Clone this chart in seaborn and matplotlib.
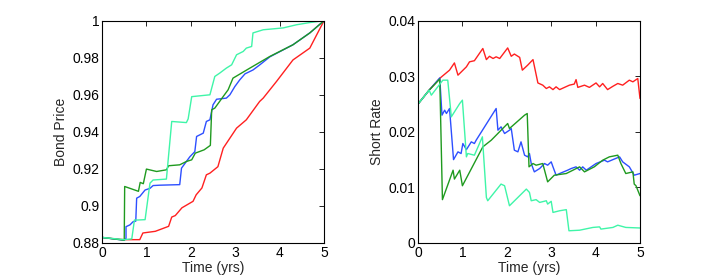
import numpy as np
import pandas as pd
import matplotlib
matplotlib.use("Agg")
import matplotlib.pyplot as plt
import seaborn as sns

# ---- bond price paths (time in yrs, price) ----
bond_red_t = [0, 0.3, 0.5, 0.85, 0.92, 1.2, 1.5, 1.57, 1.65, 1.8, 2.05, 2.12, 2.25, 2.35,
              2.43, 2.61, 2.73, 2.88, 3.03, 3.25, 3.55, 3.63, 3.93, 4.3, 4.68, 5.0]
bond_red_v = [0.883, 0.8822, 0.8818, 0.8818, 0.8854, 0.8863, 0.889, 0.894, 0.8948, 0.899,
              0.9025, 0.906, 0.9097, 0.9168, 0.9177, 0.9212, 0.9312, 0.9366, 0.942, 0.9465,
              0.9564, 0.9582, 0.9672, 0.9788, 0.9852, 1.0]

bond_blue_t = [0, 0.5, 0.54, 0.54, 0.63, 0.7, 0.76, 0.78, 0.85, 0.97, 1.08, 1.15, 1.3, 1.75,
               1.79, 1.9, 1.98, 2.09, 2.13, 2.28, 2.35, 2.43, 2.5, 2.58, 2.8, 2.88, 2.99,
               3.1, 3.22, 3.4, 3.55, 3.78, 4.3, 4.68, 5.0]
bond_blue_v = [0.883, 0.8815, 0.8825, 0.8888, 0.8898, 0.8915, 0.8918, 0.9042, 0.9051, 0.9086,
               0.9095, 0.911, 0.9112, 0.9115, 0.9204, 0.924, 0.9266, 0.9293, 0.9375, 0.9393,
               0.9456, 0.9465, 0.9546, 0.9576, 0.9582, 0.96, 0.9644, 0.968, 0.9713, 0.9734,
               0.9761, 0.9805, 0.987, 0.9934, 1.0]

bond_green_t = [0, 0.5, 0.51, 0.82, 0.86, 0.93, 1.0, 1.23, 1.45, 1.5, 1.75, 1.9, 2.02, 2.1,
                2.3, 2.44, 2.47, 2.54, 2.73, 2.84, 2.95, 3.33, 3.78, 4.3, 4.68, 5.0]
bond_green_v = [0.883, 0.8815, 0.9105, 0.9079, 0.9127, 0.912, 0.9199, 0.9186, 0.9195, 0.9217,
                0.9222, 0.924, 0.9249, 0.9285, 0.9303, 0.9327, 0.9519, 0.9528, 0.9591, 0.9627,
                0.969, 0.9744, 0.9807, 0.987, 0.9934, 1.0]

bond_aqua_t = [0, 0.5, 0.67, 0.73, 0.8, 0.97, 1.08, 1.15, 1.45, 1.57, 1.9, 1.94, 2.02, 2.43,
               2.54, 2.65, 2.8, 2.92, 3.03, 3.18, 3.25, 3.37, 3.4, 3.63, 4.08, 4.38, 4.68, 5.0]
bond_aqua_v = [0.883, 0.8818, 0.8822, 0.8924, 0.8924, 0.8926, 0.9123, 0.914, 0.9145, 0.9456,
               0.945, 0.947, 0.959, 0.96, 0.9699, 0.9717, 0.9744, 0.9762, 0.9816, 0.9834,
               0.9852, 0.9861, 0.9934, 0.9951, 0.9961, 0.9978, 0.999, 1.0]

# ---- short rate paths ----
rate_red_t = [0, 0.25, 0.5, 0.71, 0.82, 0.9, 1.09, 1.16, 1.27, 1.46, 1.54, 1.61, 1.69, 1.76,
              1.84, 2.02, 2.1, 2.17, 2.25, 2.29, 2.35, 2.47, 2.59, 2.7, 2.81, 2.89, 2.96,
              3.04, 3.11, 3.19, 3.3, 3.41, 3.52, 3.56, 3.6, 3.75, 3.86, 4.01, 4.09, 4.16,
              4.27, 4.39, 4.5, 4.61, 4.76, 4.84, 4.95, 5.0]
rate_red_v = [0.025, 0.0275, 0.0297, 0.0311, 0.0324, 0.0302, 0.0317, 0.0326, 0.0328, 0.035,
              0.033, 0.0336, 0.0332, 0.0335, 0.0332, 0.0351, 0.0336, 0.034, 0.0336, 0.0334,
              0.0311, 0.032, 0.033, 0.0288, 0.0284, 0.0278, 0.0281, 0.0276, 0.0281, 0.0276,
              0.028, 0.0284, 0.0286, 0.0294, 0.028, 0.0284, 0.028, 0.0288, 0.0281, 0.0287,
              0.0276, 0.0282, 0.0287, 0.0284, 0.0293, 0.029, 0.0296, 0.026]

rate_blue_t = [0, 0.25, 0.49, 0.54, 0.6, 0.64, 0.71, 0.8, 0.9, 0.97, 1.01, 1.09, 1.2, 1.27,
               1.31, 1.76, 1.8, 1.87, 1.95, 2.06, 2.1, 2.17, 2.25, 2.32, 2.4, 2.47, 2.51,
               2.55, 2.62, 2.74, 2.85, 2.92, 3.0, 3.04, 3.11, 3.19, 3.37, 3.45, 3.56, 3.64,
               3.71, 3.79, 4.01, 4.2, 4.27, 4.54, 4.61, 4.76, 4.87, 5.0]
rate_blue_v = [0.025, 0.0275, 0.0297, 0.023, 0.0239, 0.0233, 0.0242, 0.015, 0.0164, 0.0161,
               0.0179, 0.0168, 0.0182, 0.0179, 0.0185, 0.0242, 0.0203, 0.0209, 0.0197, 0.0203,
               0.0206, 0.0167, 0.0164, 0.0182, 0.0158, 0.0155, 0.0161, 0.0143, 0.0128, 0.0134,
               0.0143, 0.014, 0.0146, 0.0137, 0.0122, 0.0125, 0.0131, 0.0134, 0.0137, 0.0131,
               0.0137, 0.0131, 0.0143, 0.0149, 0.0146, 0.0155, 0.0146, 0.0137, 0.0122, 0.0125]

rate_green_t = [0, 0.25, 0.49, 0.55, 0.79, 0.82, 0.94, 1.0, 1.46, 1.65, 2.02, 2.06, 2.4, 2.46,
                2.5, 2.59, 2.66, 2.81, 2.92, 3.07, 3.34, 3.49, 3.64, 3.75, 3.97, 4.16, 4.31,
                4.5, 4.57, 4.68, 4.84, 4.87, 4.91, 5.0]
rate_green_v = [0.025, 0.0275, 0.0295, 0.0078, 0.0131, 0.0115, 0.0131, 0.0103, 0.0173, 0.0185,
                0.0215, 0.0206, 0.023, 0.0233, 0.0137, 0.0143, 0.014, 0.0143, 0.011, 0.0122,
                0.0125, 0.0131, 0.0137, 0.0128, 0.0137, 0.0149, 0.0155, 0.0158, 0.0143, 0.0125,
                0.0128, 0.0106, 0.0103, 0.0085]

rate_aqua_t = [0, 0.25, 0.3, 0.56, 0.67, 0.75, 0.94, 1.0, 1.09, 1.12, 1.27, 1.45, 1.54, 1.57,
               1.87, 1.95, 2.06, 2.44, 2.51, 2.55, 2.66, 2.74, 2.89, 2.92, 3.0, 3.04, 3.19,
               3.34, 3.4, 3.64, 3.94, 4.09, 4.12, 4.39, 4.5, 4.68, 5.0]
rate_aqua_v = [0.025, 0.0275, 0.0266, 0.0293, 0.0293, 0.0227, 0.0251, 0.0257, 0.0155, 0.0161,
               0.0158, 0.0191, 0.0082, 0.0076, 0.0106, 0.0103, 0.0067, 0.0097, 0.0091, 0.0076,
               0.0078, 0.0073, 0.0076, 0.007, 0.0075, 0.0055, 0.0058, 0.006, 0.0022, 0.0023,
               0.0028, 0.0029, 0.0025, 0.0028, 0.0032, 0.0028, 0.0027]

PATHS = ["red", "blue", "green", "aqua"]
COLORS = {"red": "#ff2020", "blue": "#2d4fff", "green": "#1f9a1f", "aqua": "#3ff5a8"}


def to_long(pairs):
    frames = []
    for name, (t, v) in zip(PATHS, pairs):
        frames.append(pd.DataFrame({"t": t, "v": v, "path": name}))
    return pd.concat(frames, ignore_index=True)


bond_df = to_long([(bond_red_t, bond_red_v), (bond_blue_t, bond_blue_v),
                   (bond_green_t, bond_green_v), (bond_aqua_t, bond_aqua_v)])
rate_df = to_long([(rate_red_t, rate_red_v), (rate_blue_t, rate_blue_v),
                   (rate_green_t, rate_green_v), (rate_aqua_t, rate_aqua_v)])

sns.set_style("white")
plt.rcParams['font.family'] = ['Liberation Sans', 'DejaVu Sans']
plt.rcParams['font.size'] = 10

fig = plt.figure(figsize=(7.17, 2.76), dpi=100)
ax1 = fig.add_axes([0.1423, 0.1196, 0.3096, 0.8054])
ax2 = fig.add_axes([0.5830, 0.1196, 0.3096, 0.8054])

for ax, df in [(ax1, bond_df), (ax2, rate_df)]:
    sns.lineplot(data=df, x="t", y="v", hue="path", hue_order=PATHS, palette=COLORS,
                 estimator=None, sort=False, legend=False, linewidth=1.0, ax=ax)
    ax.set_xlim(0, 5)
    ax.set_xticks([0, 1, 2, 3, 4, 5])
    ax.set_xlabel("Time (yrs)", labelpad=1)
    ax.tick_params(direction="in", top=True, right=True, length=3.5, width=0.6,
                   labelsize=10, pad=2, colors="black")
    for sp in ax.spines.values():
        sp.set_color("black")
        sp.set_linewidth(0.8)

ax1.set_ylim(0.88, 1.0)
ax1.set_yticks([0.88, 0.9, 0.92, 0.94, 0.96, 0.98, 1.0])
ax1.set_yticklabels(["0.88", "0.9", "0.92", "0.94", "0.96", "0.98", "1"])
ax1.set_ylabel("Bond Price", labelpad=3)

ax2.set_ylim(0, 0.04)
ax2.set_yticks([0, 0.01, 0.02, 0.03, 0.04])
ax2.set_yticklabels(["0", "0.01", "0.02", "0.03", "0.04"])
ax2.set_ylabel("Short Rate", labelpad=3)

fig.savefig("out.png", dpi=100)
